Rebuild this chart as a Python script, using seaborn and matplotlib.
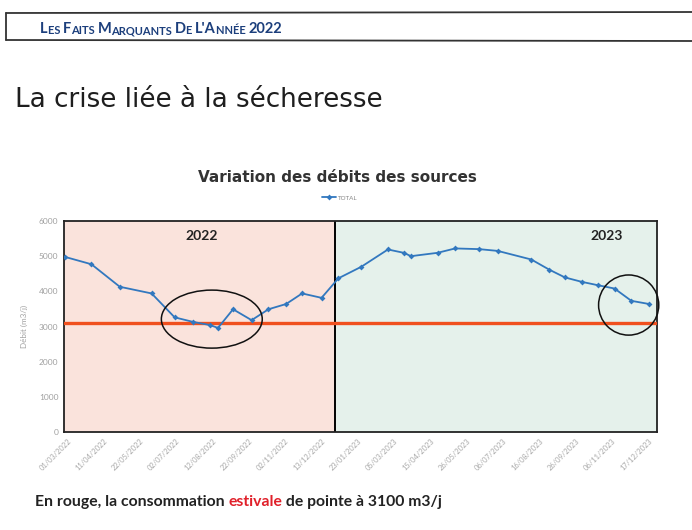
import matplotlib
matplotlib.use("Agg")
import matplotlib.pyplot as plt
import matplotlib.dates as mdates
from matplotlib.patches import Ellipse
from matplotlib.lines import Line2D
from matplotlib.text import Annotation
import seaborn as sns
import pandas as pd

# ---- data ----
dates = ["2022-03-02", "2022-04-01", "2022-05-03", "2022-06-08", "2022-07-04",
         "2022-07-25", "2022-08-13", "2022-08-22", "2022-09-08", "2022-09-29",
         "2022-10-18", "2022-11-07", "2022-11-25", "2022-12-17", "2023-01-05",
         "2023-01-31", "2023-03-02", "2023-03-20", "2023-03-28", "2023-04-27",
         "2023-05-17", "2023-06-13", "2023-07-04", "2023-08-11", "2023-08-31",
         "2023-09-18", "2023-10-07", "2023-10-25", "2023-11-13", "2023-12-02",
         "2023-12-22"]
total = [4980, 4770, 4130, 3940, 3260, 3130, 3040, 2960, 3490, 3180,
         3490, 3640, 3940, 3815, 4370, 4700, 5190, 5095, 5000, 5095,
         5220, 5200, 5150, 4905, 4620, 4395, 4270, 4175, 4080, 3730,
         3640]
tick_dates = ["2022-03-01", "2022-04-11", "2022-05-22", "2022-07-02", "2022-08-12",
              "2022-09-22", "2022-11-02", "2022-12-13", "2023-01-23", "2023-03-05",
              "2023-04-15", "2023-05-26", "2023-07-06", "2023-08-16", "2023-09-26",
              "2023-11-06", "2023-12-17"]
y_ticks = [0, 1000, 2000, 3000, 4000, 5000, 6000]
conso_pointe = 3100
year_labels = ["2022", "2023"]
period_bounds = ["2022-03-01", "2023-01-01", "2023-12-31"]

df = pd.DataFrame({"date": pd.to_datetime(dates), "TOTAL": total})

sns.set_theme(style="white")
plt.rcParams["font.family"] = ["Lato", "DejaVu Sans"]

W, H = 692, 530
fig = plt.figure(figsize=(W / 100, H / 100), dpi=100)
fig.patch.set_facecolor("white")

def fx(px):
    return px / W

def fy(py):
    return 1 - py / H

ax = fig.add_axes([fx(64), fy(432), fx(657) - fx(64), (432 - 221) / H])

b0, b1, b2 = [pd.Timestamp(d) for d in period_bounds]
ax.axvspan(b0, b1, color="#fae3dc", zorder=0)
ax.axvspan(b1, b2, color="#e5f1eb", zorder=0)
ax.axvline(b1, color="black", lw=1.4, zorder=2)

ax.axhline(conso_pointe, color="#f0501e", lw=2.4, zorder=3)

sns.lineplot(data=df, x="date", y="TOTAL", ax=ax, color="#3278bf", lw=1.3,
             marker="D", markersize=3, markeredgewidth=0, zorder=4, legend=False)

ax.set_xlim(b0, b2)
ax.set_ylim(0, 6000)
ax.set_yticks(y_ticks)
ax.set_yticklabels([str(v) for v in y_ticks], fontsize=6, color="#a0a0a0")
tk = pd.to_datetime(tick_dates)
ax.set_xticks(tk + pd.Timedelta(days=4))
ax.set_xticklabels([d.strftime("%d/%m/%Y") for d in tk], rotation=45, ha="right",
                   rotation_mode="anchor", fontsize=5.4, color="#a8a8a8")
ax.tick_params(axis="both", length=0, pad=4)
ax.set_xlabel("")
ax.set_ylabel("Débit (m3/j)", fontsize=5.8, color="#a0a0a0", labelpad=8)
for s in ax.spines.values():
    s.set_color("#222222")
    s.set_linewidth(1.3)

# year labels
ax.text(mdates.date2num(pd.Timestamp("2022-08-04")), 5580, year_labels[0],
        fontsize=10, fontweight="bold", color="#222222", ha="center", va="center")
ax.text(mdates.date2num(pd.Timestamp("2023-11-04")), 5580, year_labels[1],
        fontsize=10, fontweight="bold", color="#222222", ha="center", va="center")

# circled zones
e1 = Ellipse((mdates.date2num(pd.Timestamp("2022-08-15")), 3210), 114, 1650,
             fill=False, ec="#111111", lw=1.1, zorder=5)
e2 = Ellipse((mdates.date2num(pd.Timestamp("2023-11-29")), 3610), 68, 1710,
             fill=False, ec="#111111", lw=1.1, zorder=5, clip_on=False)
ax.add_patch(e1)
ax.add_patch(e2)

# legend
h = Line2D([], [], color="#3278bf", lw=1.3, marker="D", markersize=3, markeredgewidth=0)
fig.legend([h], ["TOTAL"], loc="center", bbox_to_anchor=(fx(340), fy(198)),
           fontsize=4.5, frameon=False, handlelength=2.2, handletextpad=0.3,
           labelcolor="#888888")

# chart title
fig.text(fx(337), fy(178), "Variation des débits des sources", fontsize=11,
         fontweight="bold", color="#333333", ha="center", va="center",
         family=["DejaVu Sans"])

# page title
fig.text(fx(15), fy(100), "La crise liée à la sécheresse", fontsize=18.8,
         color="#1e1e1e", ha="left", va="center", family=["DejaVu Sans"])

# header box
fig.add_artist(Line2D([fx(6), fx(692)], [fy(13), fy(12)], color="#333333", lw=1.3))
fig.add_artist(Line2D([fx(6), fx(692)], [fy(40), fy(41)], color="#333333", lw=1.3))
fig.add_artist(Line2D([fx(6), fx(6)], [fy(13), fy(40)], color="#333333", lw=1.3))

# header small caps
pieces = [("L", 10.5), ("ES ", 8), ("F", 10.5), ("AITS ", 8), ("M", 10.5),
          ("ARQUANTS ", 8), ("D", 10.5), ("E ", 8), ("L'A", 10.5), ("NNÉE ", 8),
          ("2022", 10.5)]
last = None
for txt, sz in pieces:
    kw = dict(fontsize=sz, fontweight="bold", color="#1c3f7c", va="bottom", ha="left")
    if last is None:
        last = fig.text(fx(40), fy(36), txt, **kw)
    else:
        last = fig.add_artist(Annotation(txt, xy=(1, 0), xycoords=last, **kw))

# footer
fs = 11.3
t1 = fig.text(fx(35), fy(502), "En rouge, la consommation ", fontsize=fs,
              fontweight="bold", color="#222222", ha="left", va="center")
t2 = fig.add_artist(Annotation("estivale", xy=(1, 0), xycoords=t1,
                    fontsize=fs, fontweight="bold", color="#e0202a", va="bottom", ha="left"))
t3 = fig.add_artist(Annotation(" de pointe à 3100 m3/j", xy=(1, 0), xycoords=t2,
                    fontsize=fs, fontweight="bold", color="#222222", va="bottom", ha="left"))

fig.savefig("out.png", dpi=100, facecolor="white")
